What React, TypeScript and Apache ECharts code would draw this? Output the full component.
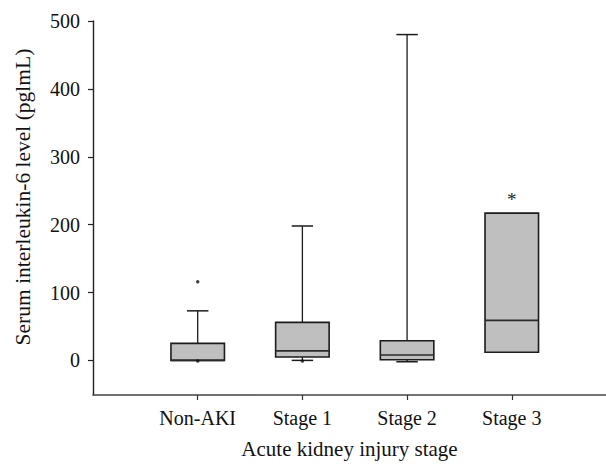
import React, { useEffect, useRef } from "react";
import * as echarts from "echarts";

const categories = ["Non-AKI", "Stage 1", "Stage 2", "Stage 3"];
const whiskerLow = [0, 0, -2, 12];
const q1 = [0, 5, 1, 12];
const median = [0, 14, 8, 59];
const q3 = [25, 56, 29, 217];
const whiskerHigh = [73, 198, 480, 217];
// outliers: [category index (1-based), value]
const outlierCat = [1, 1, 2];
const outlierVal = [116, -1, -1];
const extremeCat = [4];
const extremeVal = [241];
const yTicks = [0, 100, 200, 300, 400, 500];
const yTitle = "Serum interleukin-6 level (pglmL)";
const xTitle = "Acute kidney injury stage";

const FONT = "'Liberation Serif', 'DejaVu Serif', serif";

export default function App() {
  const ref = useRef<HTMLDivElement>(null);
  useEffect(() => {
    if (!ref.current) return;
    const chart = echarts.init(ref.current, null, { renderer: "svg" });
    const boxData = categories.map((_, i) => [
      i + 1,
      whiskerLow[i],
      q1[i],
      median[i],
      q3[i],
      whiskerHigh[i],
    ]);
    const stroke = "#1c1c1c";
    chart.setOption({
      animation: false,
      grid: { left: 93, right: 0, top: 21, bottom: 67 },
      graphic: [
        {
          type: "text",
          x: 23,
          y: 197,
          rotation: Math.PI / 2,
          style: {
            text: yTitle,
            fill: "#111",
            font: `21.5px ${FONT}`,
            align: "center",
            verticalAlign: "middle",
          },
        },
      ],
      xAxis: {
        type: "value",
        min: 0,
        max: 4.9,
        splitLine: { show: false },
        axisLine: { show: true, onZero: false, lineStyle: { color: "#444", width: 1.6 } },
        axisTick: { show: true, customValues: [1, 2, 3, 4], length: 5, lineStyle: { color: "#333", width: 1.2 } },
        axisLabel: {
          customValues: [1, 2, 3, 4],
          formatter: (v: number) => categories[Math.round(v) - 1] ?? "",
          color: "#111",
          fontFamily: FONT,
          fontSize: 20,
          margin: 13,
        },
        name: xTitle,
        nameLocation: "middle",
        nameGap: 43,
        nameTextStyle: { color: "#111", fontFamily: FONT, fontSize: 21 },
      },
      yAxis: {
        type: "value",
        min: -51,
        max: 500,
        splitLine: { show: false },
        axisLine: { show: true, onZero: false, lineStyle: { color: "#222", width: 1.4 } },
        axisTick: { show: true, customValues: yTicks, length: 5, lineStyle: { color: "#222", width: 1.2 } },
        axisLabel: {
          customValues: yTicks,
          color: "#111",
          fontFamily: FONT,
          fontSize: 20,
          margin: 13,
        },
      },
      series: [
        {
          type: "custom",
          data: boxData,
          renderItem: (params: any, api: any) => {
            const x = api.value(0);
            const lo = api.value(1);
            const a = api.value(2);
            const m = api.value(3);
            const b = api.value(4);
            const hi = api.value(5);
            const cx = api.coord([x, 0])[0];
            const yLo = api.coord([x, lo])[1];
            const yA = api.coord([x, a])[1];
            const yM = api.coord([x, m])[1];
            const yB = api.coord([x, b])[1];
            const yHi = api.coord([x, hi])[1];
            const bw = api.size([0.511, 0])[0];
            const cw = api.size([0.205, 0])[0];
            const children: any[] = [];
            if (hi > b) {
              children.push({
                type: "line",
                shape: { x1: cx, y1: yB, x2: cx, y2: yHi },
                style: { stroke, lineWidth: 1.3 },
              });
              children.push({
                type: "line",
                shape: { x1: cx - cw / 2, y1: yHi, x2: cx + cw / 2, y2: yHi },
                style: { stroke, lineWidth: 1.5 },
              });
            }
            if (lo < a) {
              children.push({
                type: "line",
                shape: { x1: cx, y1: yA, x2: cx, y2: yLo },
                style: { stroke, lineWidth: 1.3 },
              });
              children.push({
                type: "line",
                shape: { x1: cx - cw / 2, y1: yLo, x2: cx + cw / 2, y2: yLo },
                style: { stroke, lineWidth: 1.5 },
              });
            }
            children.push({
              type: "rect",
              shape: { x: cx - bw / 2, y: yB, width: bw, height: yA - yB },
              style: { fill: "#bfbfbf", stroke, lineWidth: 1.6 },
            });
            children.push({
              type: "line",
              shape: { x1: cx - bw / 2, y1: yM, x2: cx + bw / 2, y2: yM },
              style: { stroke: "#2a2a2a", lineWidth: 1.6 },
            });
            return { type: "group", children };
          },
        },
        {
          type: "scatter",
          data: outlierCat.map((c, i) => [c, outlierVal[i]]),
          symbol: "circle",
          symbolSize: 3.5,
          itemStyle: { color: "#111" },
        },
        {
          type: "custom",
          data: extremeCat.map((c, i) => [c, extremeVal[i]]),
          renderItem: (params: any, api: any) => {
            const p = api.coord([api.value(0), api.value(1)]);
            return {
              type: "text",
              x: p[0],
              y: p[1] + 3,
              style: {
                text: "*",
                fill: "#222",
                font: `19px ${FONT}`,
                align: "center",
                verticalAlign: "middle",
              },
            };
          },
        },
      ],
    });
    return () => chart.dispose();
  }, []);
  return <div ref={ref} style={{ width: 606, height: 464, position: "absolute", left: 0, top: 0 }} />;
}
